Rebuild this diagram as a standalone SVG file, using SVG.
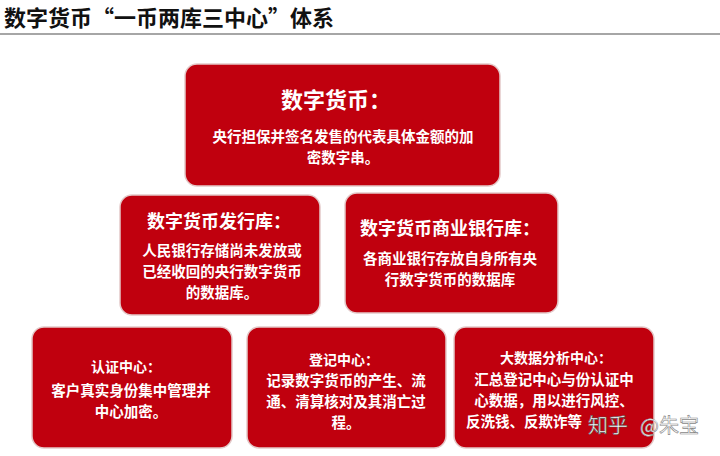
<svg xmlns="http://www.w3.org/2000/svg" width="720" height="456" viewBox="0 0 720 456">
<style>
.box{fill:#c0000e;stroke:#e3c9c9;stroke-width:1.5}
.t{font-family:"Noto Sans CJK SC",sans-serif;font-weight:bold;fill:#fff;text-anchor:middle}
.h1{font-size:22px}
.h2{font-size:18px}
.h3{font-size:14px}
.b{font-size:14.5px}
</style>
<rect width="720" height="456" fill="#fff"/>
<text x="4" y="26" font-family="Noto Sans CJK SC,sans-serif" font-weight="bold" font-size="22" fill="#111">数字货币“一币两库三中心”体系</text>
<rect x="0" y="33" width="720" height="2" fill="#a6a6a6"/>
<g id="connectors"></g>
<g id="n1">
<rect class="box" x="185" y="64" width="315" height="122" rx="12"/>
<text class="t h1" x="336" y="108">数字货币：</text>
<text class="t b" x="343" y="142">央行担保并签名发售的代表具体金额的加<tspan x="343" dy="21">密数字串。</tspan></text>
</g>
<g id="n2">
<rect class="box" x="120" y="195" width="200" height="120" rx="12"/>
<text class="t h2" x="219" y="228">数字货币发行库：</text>
<text class="t b" x="222" y="256">人民银行存储尚未发放或<tspan x="222" dy="21">已经收回的央行数字货币</tspan><tspan x="222" dy="21">的数据库。</tspan></text>
</g>
<g id="n3">
<rect class="box" x="345" y="193" width="213" height="120" rx="12"/>
<text class="t h2" x="450" y="235">数字货币商业银行库：</text>
<text class="t b" x="450" y="264">各商业银行存放自身所有央<tspan x="450" dy="21">行数字货币的数据库</tspan></text>
</g>
<g id="n4">
<rect class="box" x="32" y="327" width="200" height="121" rx="12"/>
<text class="t h3" x="126" y="372">认证中心：</text>
<text class="t b" x="131" y="396">客户真实身份集中管理并<tspan x="131" dy="21">中心加密。</tspan></text>
</g>
<g id="n5">
<rect class="box" x="247" y="327" width="199" height="121" rx="12"/>
<text class="t h3" x="344" y="365">登记中心：</text>
<text class="t b" x="346" y="386">记录数字货币的产生、流<tspan x="346" dy="21">通、清算核对及其消亡过</tspan><tspan x="346" dy="21">程。</tspan></text>
</g>
<g id="n6">
<rect class="box" x="454" y="327" width="200" height="121" rx="12"/>
<text class="t h3" x="556" y="363">大数据分析中心：</text>
<text class="t b" x="554" y="385">汇总登记中心与份认证中<tspan x="554" dy="21">心数据，用以进行风控、</tspan><tspan x="466" dy="21" text-anchor="start">反洗钱、反欺诈等</tspan></text>
</g>
<g id="watermark" font-family="Noto Sans CJK SC,sans-serif" font-size="20">
<text x="588" y="433" fill="#fff" stroke="#555" stroke-width="0.6">知乎</text>
<text x="640" y="433" fill="#fff" stroke="#888" stroke-width="0.6">@朱宝</text>
</g>
</svg>
